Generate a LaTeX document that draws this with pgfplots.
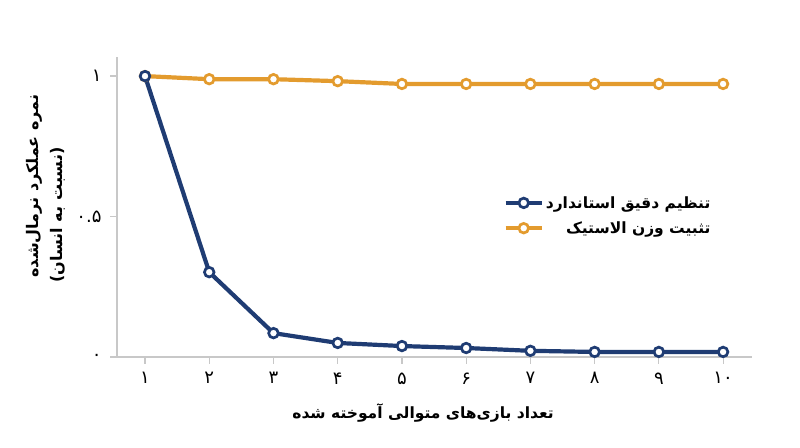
\documentclass[border=0pt]{standalone}
\usepackage{fontspec}
\usepackage{pgfplots}
\pgfplotsset{compat=1.18}
\TeXXeTstate=1
\newfontfamily\arabicfont[Script=Arabic]{DejaVu Sans}
\definecolor{cblue}{HTML}{1F3C73}
\definecolor{corange}{HTML}{E39B2E}
\definecolor{axgray}{HTML}{C8C8C8}
\begin{document}
\begin{tikzpicture}[x=1pt,y=1pt]
\path[use as bounding box] (0,0) rectangle (800,447);
\begin{axis}[
  at={(117pt,90pt)}, anchor=south west,
  scale only axis, width=635pt, height=300pt,
  xmin=0.564, xmax=10.45, ymin=0, ymax=1.068,
  axis x line*=bottom, axis y line*=left,
  axis line style={axgray, line width=1.2pt},
  tick style={axgray, line width=1.2pt},
  tick align=outside,
  major tick length=7pt,
  xtick={1,2,3,4,5,6,7,8,9,10},
  xticklabels={۱,۲,۳,۴,۵,۶,۷,۸,۹,۱۰},
  ytick={0,0.5,1},
  yticklabels={۰,۰.۵,۱},
  xticklabel style={font=\arabicfont\fontsize{18}{20}\selectfont, yshift=-5pt},
  yticklabel style={font=\arabicfont\fontsize{18}{20}\selectfont, xshift=-5pt},
  clip=false,
  reverse legend,
  legend style={draw=none, fill=none, at={(axis cs:6.58,0.58)}, anchor=north west,
    font=\arabicfont\bfseries\fontsize{15.5}{18}\selectfont, row sep=8pt,
    inner sep=0pt, nodes={inner sep=2pt}},
  legend cell align=right,
  legend image code/.code={
    \draw[mark repeat=2, mark phase=2, #1] plot coordinates {(0pt,0pt) (18pt,0pt) (36pt,0pt)};},
]
\addplot[corange, line width=4.2pt, mark=*, mark size=4.8pt, mark options={fill=white, draw=corange, line width=2.7pt}]
  coordinates {(1,1.0) (2,0.989) (3,0.989) (4,0.982) (5,0.972) (6,0.972) (7,0.972) (8,0.972) (9,0.972) (10,0.972)};
\addlegendentry{\beginR تثبیت وزن الاستیک\endR}
\addplot[cblue, line width=4.2pt, mark=*, mark size=4.8pt, mark options={fill=white, draw=cblue, line width=2.7pt}]
  coordinates {(1,1.0) (2,0.302) (3,0.085) (4,0.05) (5,0.039) (6,0.032) (7,0.022) (8,0.018) (9,0.018) (10,0.018)};
\addlegendentry{\beginR تنظیم دقیق استاندارد\endR}
\end{axis}
\node[font=\arabicfont\bfseries\fontsize{15.5}{19}\selectfont] at (423,34) {\beginR تعداد بازی‌های متوالی آموخته شده\endR};
\node[font=\arabicfont\bfseries\fontsize{16}{19}\selectfont, rotate=90] at (34,261) {\beginR نمره عملکرد نرمال‌شده\endR};
\node[font=\arabicfont\bfseries\fontsize{16}{19}\selectfont, rotate=90] at (58,232) {\beginR (نسبت به انسان)\endR};
\end{tikzpicture}
\end{document}
